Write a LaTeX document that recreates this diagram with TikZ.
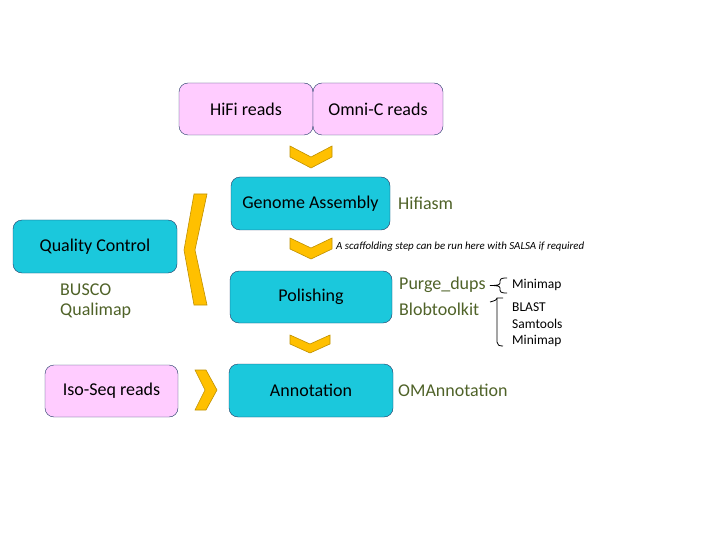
\documentclass[tikz,border=0pt]{standalone}
\usepackage{fontspec}
\setmainfont{Carlito}
\definecolor{readpink}{HTML}{FFCCFF}
\definecolor{stepcyan}{HTML}{1BC8DC}
\definecolor{boxline}{HTML}{1F3864}
\definecolor{toolgreen}{HTML}{4F6228}
\definecolor{chevfill}{HTML}{FFC000}
\definecolor{chevline}{HTML}{BF9000}

\begin{document}
\begin{tikzpicture}
[
	x=1pt,y=-1pt,
	box/.style={draw=boxline,rounded corners=9pt,inner sep=0pt,
	  minimum height=52pt,font=\fontsize{18}{21}\selectfont},
	readbox/.style={box,fill=readpink},
	stepbox/.style={box,fill=stepcyan},
	tool/.style={anchor=west,inner sep=0pt,text=toolgreen,
	  font=\fontsize{18}{21}\selectfont},
	subtool/.style={anchor=west,inner sep=0pt,font=\fontsize{13.5}{16}\selectfont},
	chev/.style={draw=chevline,fill=chevfill,line width=0.6pt,line join=miter}
]

	\useasboundingbox (0,0) rectangle (720,540);

	% input reads
	\node[readbox,minimum width=134pt] (hifi) at (246,109) {HiFi reads};
	\node[readbox,minimum width=130pt] (omnic) at (378,109) {Omni-C reads};
	\node[readbox,minimum width=133pt] (isoseq) at (111.5,391) {Iso-Seq reads};

	% pipeline steps
	\node[stepbox,minimum width=159pt,minimum height=53pt] (assembly) at (310.5,203.5) {Genome Assembly};
	\node[stepbox,minimum width=162pt] (polish) at (311,297) {Polishing};
	\node[stepbox,minimum width=164pt,minimum height=53pt] (annot) at (311,390.5) {Annotation};
	\node[stepbox,minimum width=164pt,minimum height=53pt] (qc) at (95,246.5) {Quality Control};

	% tools
	\node[tool] (hifiasm) at (398,203) {Hifiasm};
	\node[tool] (purge) at (399,285) {Purge\_dups};
	\node[tool] (blob) at (399,309) {Blobtoolkit};
	\node[tool] (omannot) at (398,390) {OMAnnotation};
	\node[tool] (busco) at (60,290) {BUSCO};
	\node[tool] (qualimap) at (60,311) {Qualimap};

	\node[subtool] (purgemm) at (512,285) {Minimap};
	\node[subtool] (blast) at (512,307) {BLAST};
	\node[subtool] (samtools) at (512,324) {Samtools};
	\node[subtool] (blobmm) at (512,341) {Minimap};

	\node[anchor=west,inner sep=0pt,font=\fontsize{10.9}{13}\selectfont\itshape] (salsa)
	  at (336,247) {A scaffolding step can be run here with SALSA if required};

	% braces
	\draw[line width=0.8pt] (507,278) .. controls (500,278) and (500,279) .. (500,283)
	  .. controls (500,285) and (497,285.5) .. (490,285.5)
	  .. controls (497,285.5) and (500,286) .. (500,288)
	  .. controls (500,292) and (500,293) .. (507,293);
	\draw[line width=0.8pt] (490,302) .. controls (494,301) and (497,300) .. (497,298) -- (503,298);
	\draw[line width=0.8pt] (497,298) -- (497,342) .. controls (497,345) and (499,346) .. (503,346);

	% chevrons
	\draw[chev,shift={(311,146)}] (-21,0) -- (0,11) -- (21,0) -- (21,11) -- (0,22) -- (-21,11) -- cycle;
	\draw[chev,shift={(311,238)}] (-21,0) -- (0,10) -- (21,0) -- (21,11) -- (0,21) -- (-21,11) -- cycle;
	\draw[chev,shift={(310,335)}] (-20,0) -- (0,9) -- (20,0) -- (20,9) -- (0,18) -- (-20,9) -- cycle;
	\draw[chev] (194,194) -- (207,194) -- (195,250) -- (207,305) -- (194,305) -- (184,250) -- cycle;
	\draw[chev] (195,370) -- (206,370) -- (217,390) -- (206,410) -- (195,410) -- (205,390) -- cycle;

\end{tikzpicture}
\end{document}
